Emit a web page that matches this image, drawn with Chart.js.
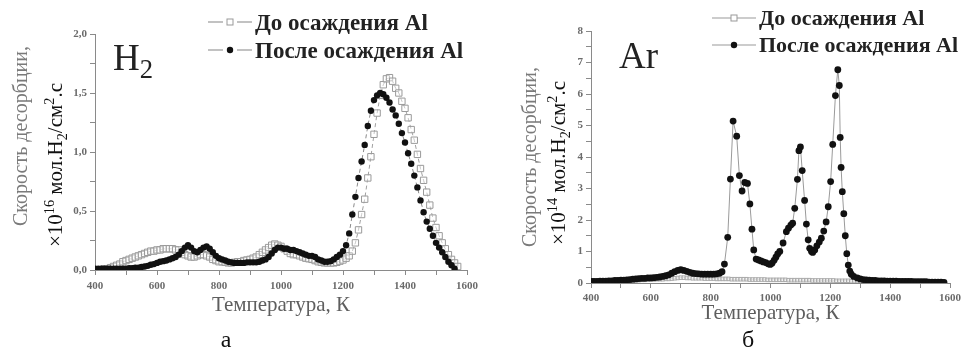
<!DOCTYPE html>
<html lang="ru">
<head>
<meta charset="UTF-8">
<title>Скорость десорбции H2 и Ar</title>
<script src="https://cdn.jsdelivr.net/npm/chart.js"></script>
<style>
  body { margin: 0; background: #fff; }
  #wrap { position: relative; width: 966px; height: 352px; overflow: hidden; font-family: "Liberation Serif", "Times New Roman", serif; }
  canvas { position: absolute; top: 0; }
  #cH2 { left: 0; }
  #cAr { left: 483px; }
  .yt { position: absolute; white-space: nowrap; line-height: 1; transform: translate(-50%, -50%) rotate(-90deg); }
  .yt.grey { color: #7a7a7a; font-size: 20px; }
  .yt.black { color: #111; font-size: 21px; }
  .yt sup, .yt sub { font-size: 68%; line-height: 0; }
  .gas { position: absolute; font-size: 37px; line-height: 1; color: #222; }
  .gas sub { font-size: 72%; line-height: 0; }
  .legend { position: absolute; font-weight: bold; color: #222; line-height: 1; white-space: nowrap; }
  .legend .row { display: flex; align-items: center; }
  .legend svg { margin-right: 3px; }
  .panel { position: absolute; font-size: 24px; line-height: 1; color: #111; transform: translate(-50%, -50%); }
</style>
</head>
<body>
<div id="wrap">
  <canvas id="cH2" width="483" height="352"></canvas>
  <canvas id="cAr" width="483" height="352"></canvas>

  <div class="yt grey" style="left:20px; top:136px;">Скорость десорбции,</div>
  <div class="yt black" style="left:55px; top:165px;">×10<sup>16</sup> мол.H<sub>2</sub>/см<sup>2</sup>.с</div>
  <div class="yt grey" style="left:529px; top:157px;">Скорость десорбции,</div>
  <div class="yt black" style="left:558px; top:163px;">×10<sup>14</sup> мол.H<sub>2</sub>/см<sup>2</sup>.с</div>

  <div class="gas" style="left:113px; top:39px;">H<sub>2</sub></div>
  <div class="gas" style="left:619px; top:37px;">Ar</div>

  <div class="legend" id="legH2" style="left:208px; top:8px; font-size:23px;"></div>
  <div class="legend" id="legAr" style="left:712px; top:4px; font-size:22px;"></div>

  <div class="panel" style="left:226px; top:339px;">а</div>
  <div class="panel" style="left:748px; top:339px;">б</div>
</div>

<script>
// названия серий
const seriesNames = ['До осаждения Al', 'После осаждения Al'];

// H2: температура, К
const h2Temps = [
  400, 410, 420, 430, 440, 450, 460, 470, 480, 490,
  500, 510, 520, 530, 540, 550, 560, 570, 580, 590,
  600, 610, 620, 630, 640, 650, 660, 670, 680, 690,
  700, 710, 720, 730, 740, 750, 760, 770, 780, 790,
  800, 810, 820, 830, 840, 850, 860, 870, 880, 890,
  900, 910, 920, 930, 940, 950, 960, 970, 980, 990,
  1000, 1010, 1020, 1030, 1040, 1050, 1060, 1070, 1080, 1090,
  1100, 1110, 1120, 1130, 1140, 1150, 1160, 1170, 1180, 1190,
  1200, 1210, 1220, 1230, 1240, 1250, 1260, 1270, 1280, 1290,
  1300, 1310, 1320, 1330, 1340, 1350, 1360, 1370, 1380, 1390,
  1400, 1410, 1420, 1430, 1440, 1450, 1460, 1470, 1480, 1490,
  1500, 1510, 1520, 1530, 1540, 1550, 1560, 1570
];
// H2, до осаждения Al (x10^16)
const h2Before = [
  0, 0, 0, 0.01, 0.01, 0.02, 0.03, 0.04, 0.05, 0.07,
  0.08, 0.09, 0.10, 0.11, 0.12, 0.13, 0.14, 0.15, 0.16, 0.16,
  0.17, 0.17, 0.18, 0.18, 0.18, 0.18, 0.17, 0.17, 0.15, 0.13,
  0.12, 0.11, 0.11, 0.12, 0.13, 0.13, 0.12, 0.11, 0.09, 0.08,
  0.07, 0.07, 0.065, 0.06, 0.06, 0.065, 0.07, 0.07, 0.08, 0.085,
  0.09, 0.10, 0.11, 0.13, 0.15, 0.17, 0.19, 0.21, 0.22, 0.21,
  0.20, 0.18, 0.16, 0.14, 0.13, 0.13, 0.12, 0.11, 0.10, 0.095,
  0.09, 0.08, 0.07, 0.065, 0.06, 0.06, 0.06, 0.06, 0.065, 0.075,
  0.085, 0.10, 0.12, 0.16, 0.23, 0.34, 0.47, 0.60, 0.78, 0.96,
  1.15, 1.33, 1.48, 1.57, 1.62, 1.63, 1.60, 1.54, 1.50, 1.43,
  1.37, 1.29, 1.19, 1.10, 0.98, 0.86, 0.76, 0.66, 0.55, 0.44,
  0.36, 0.29, 0.23, 0.18, 0.13, 0.09, 0.06, 0.03
];
// H2, после осаждения Al (x10^16)
const h2After = [
  0.01, 0.01, 0.01, 0.01, 0.01, 0.01, 0.01, 0.01, 0.01, 0.01,
  0.01, 0.015, 0.015, 0.02, 0.02, 0.025, 0.03, 0.035, 0.045, 0.05,
  0.06, 0.07, 0.075, 0.08, 0.09, 0.10, 0.11, 0.13, 0.16, 0.19,
  0.21, 0.19, 0.16, 0.15, 0.17, 0.19, 0.20, 0.18, 0.15, 0.12,
  0.10, 0.09, 0.08, 0.07, 0.065, 0.06, 0.06, 0.06, 0.06, 0.065,
  0.065, 0.065, 0.065, 0.07, 0.08, 0.09, 0.11, 0.14, 0.17, 0.19,
  0.19, 0.18, 0.18, 0.17, 0.17, 0.16, 0.15, 0.14, 0.13, 0.12,
  0.12, 0.11, 0.09, 0.08, 0.07, 0.07, 0.075, 0.09, 0.11, 0.13,
  0.16, 0.21, 0.31, 0.47, 0.62, 0.78, 0.92, 1.06, 1.22, 1.35,
  1.44, 1.48, 1.50, 1.49, 1.46, 1.42, 1.36, 1.31, 1.24, 1.16,
  1.08, 0.99, 0.90, 0.80, 0.70, 0.59, 0.49, 0.41, 0.35, 0.29,
  0.23, 0.19, 0.15, 0.11, 0.07, 0.04, 0.01, null
];

// Ar, до осаждения Al (x10^14)
const arTempsBefore = [
  400, 410, 420, 430, 440, 450, 460, 470, 480, 490,
  500, 510, 520, 530, 540, 550, 560, 570, 580, 590,
  600, 610, 620, 630, 640, 650, 660, 670, 680, 690,
  700, 710, 720, 730, 740, 750, 760, 770, 780, 790,
  800, 810, 820, 830, 840, 850, 860, 870, 880, 890,
  900, 910, 920, 930, 940, 950, 960, 970, 980, 990,
  1000, 1010, 1020, 1030, 1040, 1050, 1060, 1070, 1080, 1090,
  1100, 1110, 1120, 1130, 1140, 1150, 1160, 1170, 1180, 1190,
  1200, 1210, 1220, 1230, 1240, 1250, 1260, 1270, 1280, 1290,
  1300, 1310, 1320, 1330, 1340, 1350, 1360, 1370, 1380, 1390,
  1400, 1410, 1420, 1430, 1440, 1450, 1460, 1470, 1480, 1490,
  1500, 1510, 1520, 1530, 1540, 1550, 1560, 1570, 1580
];
const arBefore = [
  0.03, 0.03, 0.03, 0.04, 0.04, 0.04, 0.05, 0.05, 0.05, 0.06,
  0.06, 0.07, 0.07, 0.08, 0.08, 0.09, 0.09, 0.10, 0.10, 0.11,
  0.11, 0.11, 0.12, 0.12, 0.12, 0.13, 0.13, 0.14, 0.15, 0.16,
  0.17, 0.17, 0.16, 0.16, 0.15, 0.15, 0.15, 0.15, 0.14, 0.14,
  0.14, 0.14, 0.13, 0.13, 0.13, 0.13, 0.13, 0.12, 0.12, 0.12,
  0.12, 0.12, 0.12, 0.11, 0.11, 0.11, 0.11, 0.11, 0.11, 0.10,
  0.10, 0.10, 0.10, 0.10, 0.10, 0.10, 0.09, 0.09, 0.09, 0.09,
  0.09, 0.09, 0.09, 0.09, 0.08, 0.08, 0.08, 0.08, 0.08, 0.08,
  0.08, 0.08, 0.07, 0.07, 0.07, 0.07, 0.07, 0.06, 0.06, 0.06,
  0.06, 0.06, 0.06, 0.05, 0.05, 0.05, 0.05, 0.05, 0.05, 0.05,
  0.05, 0.05, 0.04, 0.04, 0.04, 0.04, 0.04, 0.04, 0.04, 0.04,
  0.04, 0.04, 0.03, 0.03, 0.03, 0.03, 0.03, 0.03, 0.03
];

// Ar, после осаждения Al (x10^14)
const arTempsAfter = [
  400, 410, 420, 430, 440, 450, 460, 470, 480, 490,
  500, 510, 520, 530, 540, 550, 560, 570, 580, 590,
  600, 610, 620, 630, 640, 650, 660, 670, 680, 690,
  700, 710, 720, 730, 740, 750, 760, 770, 780, 790,
  800, 810, 820, 830, 838, 846, 857, 866, 875, 887,
  896, 905, 914, 923, 931, 938, 944, 952, 960, 968,
  976, 984, 992, 999, 1005, 1012, 1018, 1024, 1031, 1042,
  1053, 1060, 1068, 1074, 1081, 1090, 1095, 1100, 1106, 1114,
  1120, 1126, 1131, 1137, 1141, 1148, 1155, 1163, 1170, 1178,
  1186, 1193, 1201, 1208, 1217, 1225, 1230, 1233, 1236, 1240,
  1245, 1250, 1255, 1260, 1265, 1270, 1278, 1290, 1300, 1310,
  1320, 1330, 1340, 1350, 1360, 1370, 1380, 1390, 1400, 1410,
  1420, 1430, 1440, 1450, 1460, 1470, 1480, 1490, 1500, 1510,
  1520, 1530, 1540, 1550, 1560, 1570, 1580
];
const arAfter = [
  0.05, 0.05, 0.05, 0.06, 0.06, 0.06, 0.07, 0.07, 0.08, 0.08,
  0.09, 0.09, 0.10, 0.11, 0.12, 0.13, 0.14, 0.15, 0.15, 0.16,
  0.16, 0.17, 0.18, 0.19, 0.21, 0.23, 0.26, 0.31, 0.36, 0.40,
  0.42, 0.40, 0.37, 0.34, 0.31, 0.30, 0.29, 0.28, 0.28, 0.28,
  0.28, 0.28, 0.29, 0.31, 0.36, 0.60, 1.45, 3.30, 5.14, 4.66,
  3.41, 2.92, 3.19, 3.16, 2.51, 1.71, 1.05, 0.76, 0.73, 0.70,
  0.67, 0.65, 0.61, 0.59, 0.63, 0.72, 0.82, 0.92, 1.00, 1.27,
  1.63, 1.74, 1.84, 1.90, 2.37, 3.29, 4.20, 4.32, 3.57, 2.62,
  1.87, 1.37, 1.10, 1.00, 0.97, 1.05, 1.18, 1.30, 1.42, 1.65,
  1.94, 2.42, 3.22, 4.40, 5.95, 6.77, 6.27, 4.62, 3.67, 2.90,
  2.20, 1.50, 0.93, 0.57, 0.38, 0.28, 0.21, 0.16, 0.13, 0.11,
  0.10, 0.09, 0.08, 0.08, 0.07, 0.07, 0.07, 0.06, 0.06, 0.06,
  0.06, 0.05, 0.05, 0.05, 0.05, 0.05, 0.04, 0.04, 0.04, 0.04,
  0.04, 0.03, 0.03, 0.03, 0.03, 0.03, 0.02
];

// подписи делений
const xTickLabels = [400, 600, 800, 1000, 1200, 1400, 1600];
const h2YTickLabels = [0, 0.5, 1, 1.5, 2];
const arYTickLabels = [0, 1, 2, 3, 4, 5, 6, 7, 8];

const pts = (xs, ys) => xs.map((x, i) => ({ x: x, y: ys[i] }));

const tickFont = { family: 'Liberation Serif', size: 11, weight: 'bold' };
const axisGrey = '#8a8a8a';

function makeChart(id, cfg) {
  return new Chart(document.getElementById(id), {
    type: 'line',
    data: { datasets: cfg.datasets },
    options: {
      responsive: false,
      animation: false,
      layout: { padding: cfg.padding },
      plugins: { legend: { display: false }, tooltip: { enabled: false } },
      scales: {
        x: {
          type: 'linear',
          min: 400,
          max: 1600,
          afterFit: (s) => { s.height = cfg.xHeight; },
          ticks: {
            stepSize: 100,
            autoSkip: false,
            maxRotation: 0,
            padding: cfg.xPad,
            color: '#6b6b6b',
            font: tickFont,
            callback: (v) => xTickLabels.includes(v) ? String(v) : ''
          },
          grid: { drawOnChartArea: false, drawTicks: true, tickLength: 5, color: axisGrey },
          border: { color: axisGrey, width: 1 },
          title: {
            display: true,
            text: 'Температура, К',
            color: '#5e5e5e',
            font: { family: 'Liberation Serif', size: 21 },
            padding: 0
          }
        },
        y: {
          min: 0,
          max: cfg.yMax,
          afterFit: (s) => { s.width = cfg.yWidth; },
          ticks: {
            stepSize: cfg.yStep,
            autoSkip: false,
            padding: 3,
            color: '#6b6b6b',
            font: tickFont,
            callback: cfg.yLabel
          },
          grid: { drawOnChartArea: false, drawTicks: true, tickLength: 5, color: axisGrey },
          border: { color: axisGrey, width: 1 }
        }
      }
    }
  });
}

// H2
makeChart('cH2', {
  padding: { left: 0, right: 12, top: 34, bottom: 34 },
  xHeight: 48,
  xPad: 5,
  yWidth: 95,
  yMax: 2,
  yStep: 0.25,
  yLabel: (v) => h2YTickLabels.includes(v) ? v.toFixed(1).replace('.', ',') : '',
  datasets: [
    {
      label: seriesNames[0],
      data: pts(h2Temps, h2Before),
      order: 1,
      borderColor: '#a0a0a0',
      borderWidth: 1,
      borderDash: [4, 3],
      pointStyle: 'rect',
      pointRadius: 4.5,
      pointBorderWidth: 1,
      pointBorderColor: '#9a9a9a',
      pointBackgroundColor: 'rgba(255,255,255,0.4)'
    },
    {
      label: seriesNames[1],
      data: pts(h2Temps, h2After),
      order: 0,
      borderColor: '#8a8a8a',
      borderWidth: 1,
      borderDash: [4, 3],
      pointStyle: 'circle',
      pointRadius: 3.2,
      pointBorderWidth: 0,
      pointBackgroundColor: '#111'
    }
  ]
});

// Ar
makeChart('cAr', {
  padding: { left: 0, right: 16, top: 31, bottom: 26 },
  xHeight: 43,
  xPad: 4,
  yWidth: 108,
  yMax: 8,
  yStep: 0.5,
  yLabel: (v) => arYTickLabels.includes(v) ? String(v) : '',
  datasets: [
    {
      label: seriesNames[0],
      data: pts(arTempsBefore, arBefore),
      order: 1,
      borderColor: '#b0b0b0',
      borderWidth: 1,
      pointStyle: 'rect',
      pointRadius: 2.5,
      pointBorderWidth: 1,
      pointBorderColor: '#a8a8a8',
      pointBackgroundColor: 'rgba(255,255,255,0.5)'
    },
    {
      label: seriesNames[1],
      data: pts(arTempsAfter, arAfter),
      order: 0,
      borderColor: '#9a9a9a',
      borderWidth: 1,
      pointStyle: 'circle',
      pointRadius: 3.4,
      pointBorderWidth: 0,
      pointBackgroundColor: '#111'
    }
  ]
});

// легенды (текст из названий серий)
function symbolSvg(kind, dashed) {
  const line = dashed
    ? '<line x1="0" y1="6" x2="15" y2="6" stroke="#999" stroke-width="1.2"/><line x1="29" y1="6" x2="44" y2="6" stroke="#999" stroke-width="1.2"/>'
    : '<line x1="0" y1="6" x2="44" y2="6" stroke="#999" stroke-width="1.2"/>';
  const marker = kind === 'square'
    ? '<rect x="19" y="3" width="6" height="6" fill="#fff" stroke="#999" stroke-width="1"/>'
    : '<circle cx="22" cy="6" r="3.2" fill="#111"/>';
  return '<svg width="44" height="12" viewBox="0 0 44 12">' + line + marker + '</svg>';
}
function buildLegend(id, dashed, rowH) {
  const el = document.getElementById(id);
  seriesNames.forEach((name, i) => {
    const row = document.createElement('div');
    row.className = 'row';
    row.style.height = rowH + 'px';
    row.innerHTML = symbolSvg(i === 0 ? 'square' : 'dot', dashed);
    const span = document.createElement('span');
    span.textContent = name;
    row.appendChild(span);
    el.appendChild(row);
  });
}
buildLegend('legH2', true, 28);
buildLegend('legAr', false, 27);
</script>
</body>
</html>
